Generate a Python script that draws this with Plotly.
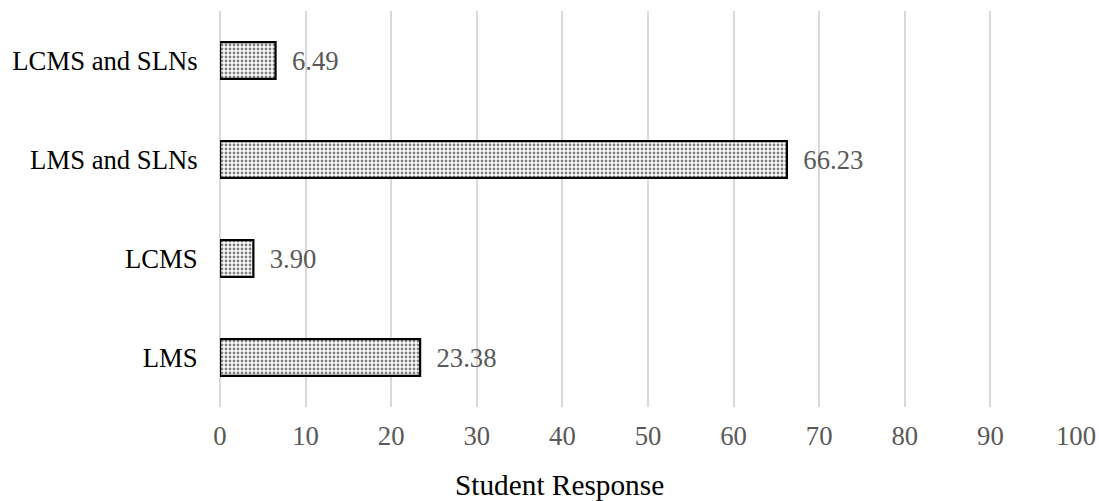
import plotly.graph_objects as go

categories = ["LMS", "LCMS", "LMS and SLNs", "LCMS and SLNs"]
values = [23.38, 3.90, 66.23, 6.49]
labels = ["23.38", "3.90", "66.23", "6.49"]
x_ticks = [0, 10, 20, 30, 40, 50, 60, 70, 80, 90, 100]
x_title = "Student Response"

FONT = "Liberation Serif"

fig = go.Figure(go.Bar(
    x=values,
    y=categories,
    orientation="h",
    width=0.37,
    text=["\u00a0\u00a0" + t for t in labels],
    textposition="outside",
    cliponaxis=False,
    textfont=dict(family=FONT, size=26.7, color="#595959"),
    marker=dict(
        color="white",
        line=dict(color="black", width=2.2),
        pattern=dict(shape=".", fgcolor="black", bgcolor="white", size=4, solidity=0.4),
    ),
))

fig.update_layout(
    width=1099, height=501,
    autosize=False,
    margin=dict(l=220, r=23, t=11, b=94),
    paper_bgcolor="white", plot_bgcolor="white",
    showlegend=False,
    font=dict(family=FONT),
    annotations=[dict(
        text=x_title, xref="paper", yref="paper", x=0.397, y=0,
        xanchor="center", yanchor="middle", yshift=-78, showarrow=False,
        font=dict(family=FONT, size=29.3, color="black"),
    )],
)
fig.update_xaxes(
    range=[0, 100],
    tickvals=x_ticks,
    automargin=False,
    showgrid=True, gridcolor="#d9d9d9", gridwidth=2,
    zeroline=True, zerolinecolor="#d9d9d9", zerolinewidth=2,
    showline=False,
    ticks="outside", ticklen=5, tickcolor="rgba(0,0,0,0)",
    tickfont=dict(family=FONT, size=26.7, color="#595959"),
)
fig.update_yaxes(
    categoryorder="array", categoryarray=categories,
    range=[-0.5, 3.5],
    automargin=False,
    showgrid=False, showline=False, zeroline=False,
    ticks="outside", ticklen=16, tickcolor="rgba(0,0,0,0)",
    tickfont=dict(family=FONT, size=26.7, color="black"),
)

fig.write_html(
    "out.html",
    config={"displayModeBar": False, "responsive": False},
    post_script="document.body.style.margin='0px';document.body.style.overflow='hidden';",
)
